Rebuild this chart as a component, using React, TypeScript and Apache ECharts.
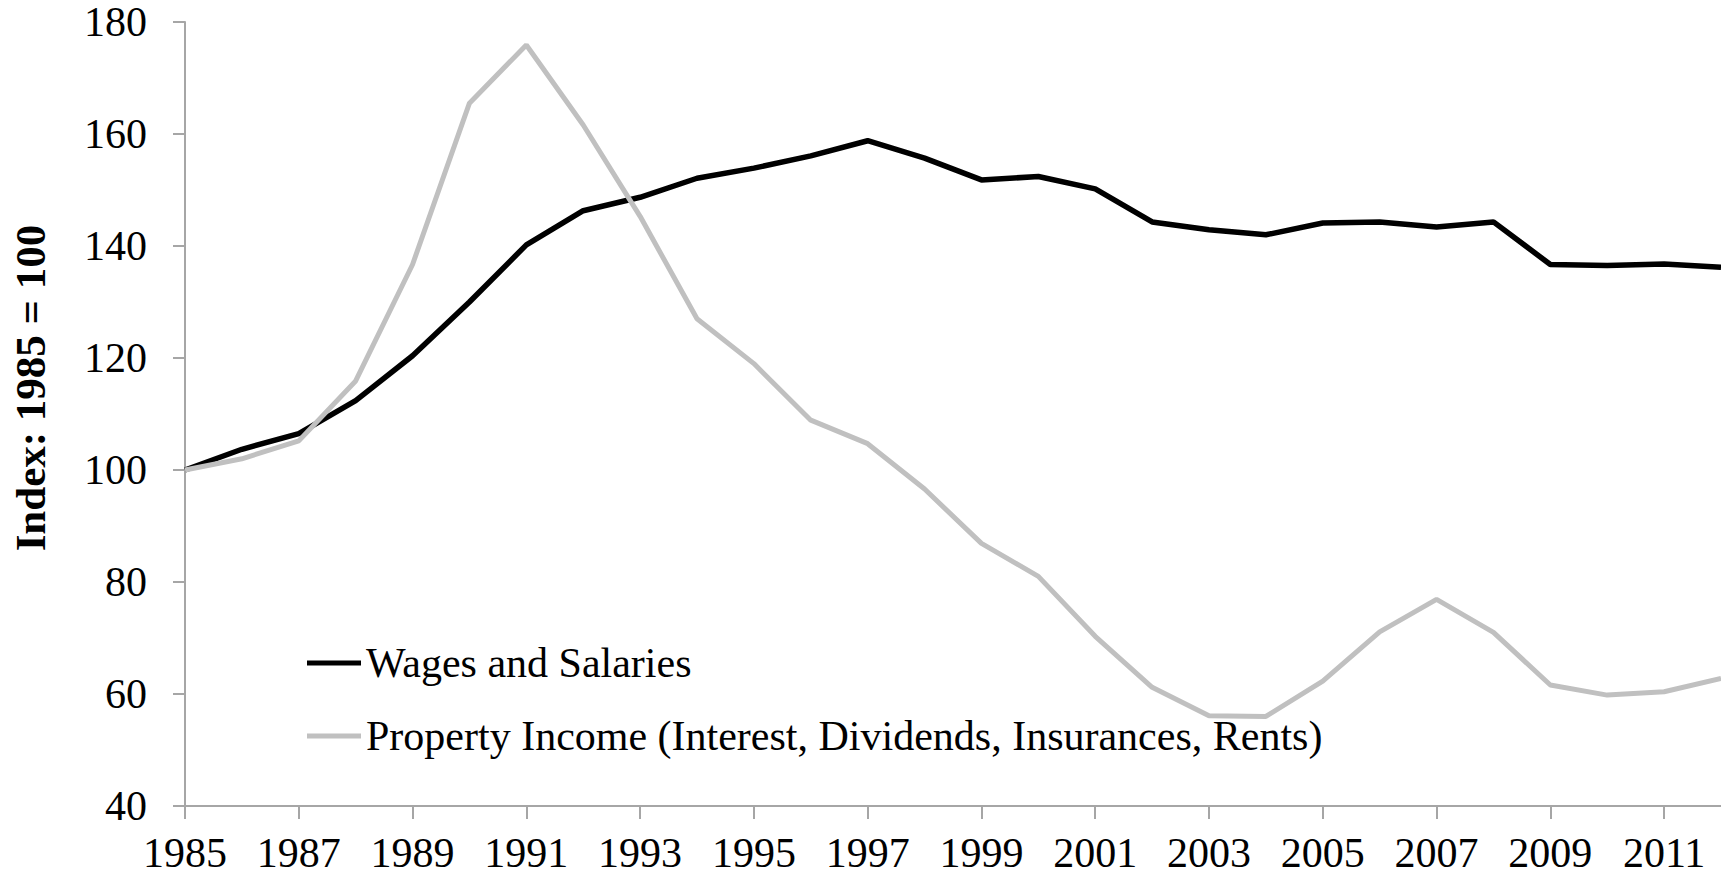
import React, { useEffect, useRef } from "react";
import * as echarts from "echarts";

const years = [
  "1985","1986","1987","1988","1989","1990","1991","1992","1993","1994",
  "1995","1996","1997","1998","1999","2000","2001","2002","2003","2004",
  "2005","2006","2007","2008","2009","2010","2011","2012",
];

const wages = [
  100, 103.7, 106.5, 112.4, 120.4, 130.0, 140.2, 146.3, 148.7, 152.1,
  153.9, 156.1, 158.8, 155.7, 151.8, 152.4, 150.2, 144.3, 142.9, 142.0,
  144.1, 144.3, 143.4, 144.3, 136.7, 136.5, 136.8, 136.2,
];

const property = [
  100, 102.0, 105.2, 115.9, 136.7, 165.5, 175.9, 161.6, 145.3, 127.0,
  119.0, 108.9, 104.7, 96.6, 86.9, 81.0, 70.3, 61.2, 56.1, 56.0,
  62.3, 71.1, 76.9, 71.0, 61.6, 59.8, 60.4, 62.8,
];

const seriesNames = [
  "Wages and Salaries",
  "Property Income (Interest, Dividends, Insurances, Rents)",
];
const yAxisTitle = "Index: 1985 = 100";

const FONT = "'Liberation Serif', 'Times New Roman', serif";
const AXIS_COLOR = "#a6a6a6";
const WAGE_COLOR = "#000000";
const PROP_COLOR = "#c0c0c0";

export default function App() {
  const ref = useRef<HTMLDivElement>(null);
  useEffect(() => {
    if (!ref.current) return;
    const chart = echarts.init(ref.current, null, { renderer: "svg" });
    chart.setOption({
      animation: false,
      backgroundColor: "#ffffff",
      grid: { left: 185, right: 0, top: 22, bottom: 73, containLabel: false },
      legend: {
        orient: "vertical",
        left: 302,
        top: 637,
        icon: "rect",
        itemWidth: 54,
        itemHeight: 5,
        itemGap: 31,
        data: seriesNames,
        textStyle: { fontFamily: FONT, fontSize: 42, lineHeight: 42, color: "#000" },
        selectedMode: false,
      },
      xAxis: {
        type: "category",
        data: years,
        boundaryGap: false,
        axisLine: { lineStyle: { color: AXIS_COLOR, width: 2 } },
        axisTick: { interval: 1, length: 13, lineStyle: { color: AXIS_COLOR, width: 2 } },
        axisLabel: {
          interval: 1,
          margin: 31,
          fontFamily: FONT,
          fontSize: 42,
          lineHeight: 32,
          color: "#000",
        },
        splitLine: { show: false },
      },
      yAxis: {
        type: "value",
        min: 40,
        max: 180,
        interval: 20,
        axisLine: { show: true, lineStyle: { color: AXIS_COLOR, width: 2 } },
        axisTick: { show: true, length: 12, lineStyle: { color: AXIS_COLOR, width: 2 } },
        axisLabel: {
          margin: 38,
          fontFamily: FONT,
          fontSize: 42,
          lineHeight: 34,
          color: "#000",
        },
        splitLine: { show: false },
      },
      graphic: [
        {
          type: "text",
          x: 30,
          y: 388,
          rotation: Math.PI / 2,
          style: {
            text: yAxisTitle,
            fontFamily: FONT,
            fontWeight: "bold",
            fontSize: 43,
            fill: "#000",
            textAlign: "center",
            textVerticalAlign: "middle",
          },
        },
      ],
      series: [
        {
          name: seriesNames[0],
          type: "line",
          data: wages,
          symbol: "none",
          lineStyle: { color: WAGE_COLOR, width: 5.5 },
          itemStyle: { color: WAGE_COLOR },
        },
        {
          name: seriesNames[1],
          type: "line",
          data: property,
          symbol: "none",
          lineStyle: { color: PROP_COLOR, width: 5 },
          itemStyle: { color: PROP_COLOR },
        },
      ],
    });
    return () => chart.dispose();
  }, []);
  return (
    <div
      ref={ref}
      style={{ position: "absolute", left: 0, top: 0, width: 1721, height: 879, background: "#fff" }}
    />
  );
}
